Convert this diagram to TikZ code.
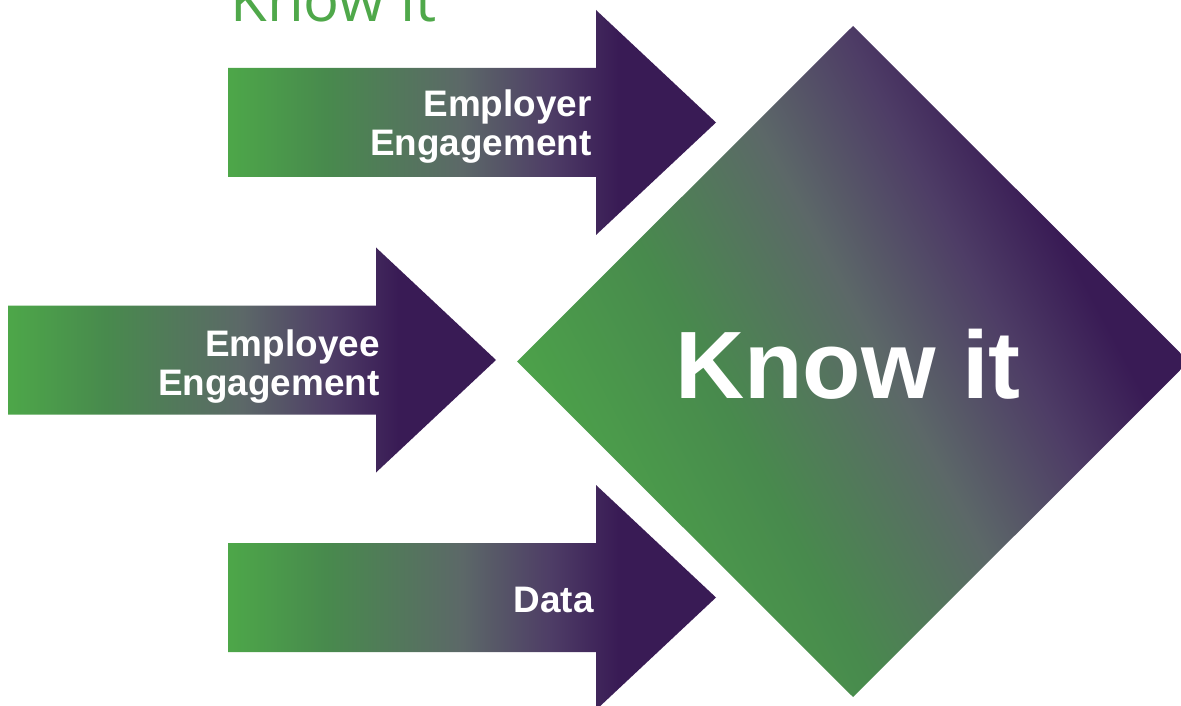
\documentclass[tikz,border=0pt]{standalone}
\usepackage{fontspec}
\setmainfont{Liberation Sans}
\newfontfamily\lightfont{Open Sans}
\usetikzlibrary{positioning}
\definecolor{kgreen}{HTML}{4DA749}
\definecolor{kdkgreen}{HTML}{488A4D}
\definecolor{kgrey}{HTML}{5C6868}
\definecolor{kmauve}{HTML}{4E3D66}
\definecolor{kpurple}{HTML}{391B55}
\definecolor{ktitle}{HTML}{4FA84A}
\pgfdeclarehorizontalshading{arrowshade}{100bp}{color(0bp)=(kgreen); color(25bp)=(kgreen);
  color(35bp)=(kdkgreen); color(49bp)=(kgrey); color(58bp)=(kmauve); color(65bp)=(kpurple);
  color(75bp)=(kpurple); color(100bp)=(kpurple)}
\pgfdeclarehorizontalshading{diamondshade}{100bp}{color(0bp)=(kgreen); color(25bp)=(kgreen);
  color(40bp)=(kdkgreen); color(52bp)=(kgrey); color(61bp)=(kmauve); color(68bp)=(kpurple);
  color(75bp)=(kpurple); color(100bp)=(kpurple)}
\tikzset{
        % Arrow shapes
        arrow_body/.style={shading=arrowshade},
        % Big diamond
        diamond_body/.style={shading=diamondshade, shading angle=28},
        % Labels on the arrows
        arrow_label/.style={align=right, anchor=east, inner sep=0pt, text=white,
                font=\bfseries\fontsize{21}{22.7}\selectfont},
        % Label in the diamond
        big_label/.style={anchor=base, inner sep=0pt, text=white,
                font=\bfseries\fontsize{54.5}{60}\selectfont},
        % Title at the top
        title_label/.style={anchor=base west, inner sep=0pt, text=ktitle,
                font=\lightfont\fontsize{34}{40}\selectfont}
}
\begin{document}
\begin{tikzpicture}[x=0.02cm, y=-0.02cm]
    \useasboundingbox (0,0) rectangle (1181,706);
    % the three arrows
    \foreach \xs/\yc in {228/122.5, 8/360, 228/597.5} {
        \shade[arrow_body] (\xs,{\yc-54.5}) -- ({\xs+368},{\yc-54.5}) -- ({\xs+368},{\yc-112.5})
            -- ({\xs+488},\yc) -- ({\xs+368},{\yc+112.5}) -- ({\xs+368},{\yc+54.5})
            -- (\xs,{\yc+54.5}) -- cycle;
    }
    % the diamond
    \shade[diamond_body] (517,361.5) -- (853,26) -- (1189,361.5) -- (853,697) -- cycle;
    \coordinate (employer) at (592,126.5);
    \coordinate (employee) at (380,366.5);
    \coordinate (data) at (594,600);
    \node[arrow_label] (employer_text) at (employer) {Employer\\Engagement};
    \node[arrow_label] (employee_text) at (employee) {Employee\\Engagement};
    \node[arrow_label] (data_text) at (data) {Data};
    \node[big_label] (know) at (848,398) {Know it};
    \node[title_label] (title) at (230,22) {Know it};
\end{tikzpicture}
\end{document}
